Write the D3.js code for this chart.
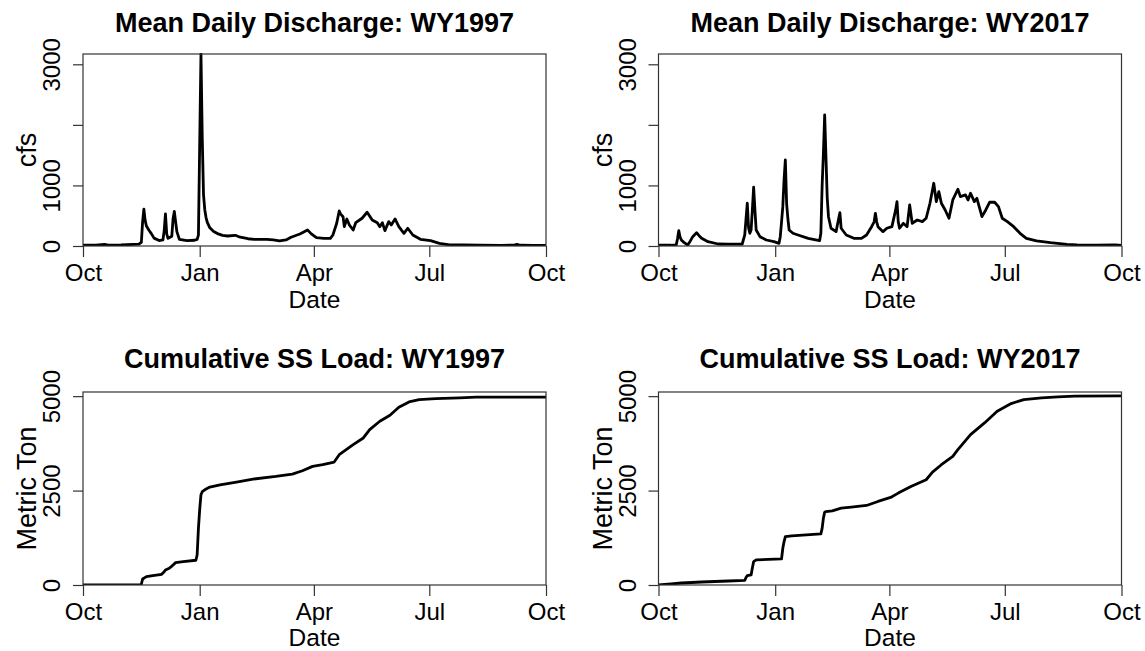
<!DOCTYPE html>
<html>
<head>
<meta charset="utf-8">
<script src="https://cdn.jsdelivr.net/npm/d3@7"></script>
<style>
  body { margin: 0; background: #fff; }
  svg text { font-family: "Liberation Sans", Arial, sans-serif; }
</style>
</head>
<body>
<svg id="chart"></svg>
<script>
// day of water year (0 = Oct 1) and values
var q1997Day = [0, 10, 17, 20, 30, 44, 46, 47, 48, 49, 50, 52, 54, 56, 60, 63, 64, 65, 66, 67,
    69, 70, 71, 72, 73, 74, 76, 82, 88, 90, 91, 92, 93, 94, 95, 96, 97, 98, 100, 103,
    106, 110, 114, 120, 124, 130, 135, 145, 150, 155, 160, 164, 171, 177, 180, 184, 190, 195, 197, 200,
    202, 203, 205, 206, 208, 210, 213, 215, 220, 224, 228, 232, 234, 236, 238, 241, 243, 246, 249, 253,
    256, 260, 266, 274, 281, 289, 300, 313, 330, 340, 342, 345, 355, 365];
var q1997Cfs = [15, 15, 25, 15, 18, 30, 60, 400, 610, 420, 330, 260, 200, 130, 90, 100, 250, 530, 200, 127,
    150, 160, 450, 570, 400, 237, 110, 88, 95, 110, 180, 1700, 3170, 1800, 850, 600, 470, 390, 300, 240,
    205, 175, 165, 177, 145, 120, 110, 110, 100, 85, 100, 145, 198, 264, 200, 137, 125, 127, 182, 375,
    578, 530, 484, 319, 446, 347, 264, 385, 458, 557, 430, 385, 319, 385, 253, 402, 347, 446, 319, 210,
    293, 182, 110, 88, 44, 20, 17, 12, 10, 15, 25, 12, 10, 8];

var q2017Day = [0, 10, 14, 15, 16, 17, 18, 20, 23, 25, 27, 30, 32, 34, 39, 47, 55, 66, 68, 69,
    70, 71, 72, 73, 74, 75, 76, 77, 80, 85, 91, 95, 96, 97, 98, 99, 100, 101, 102, 103,
    106, 110, 118, 127, 128, 129, 130, 131, 132, 133, 134, 136, 140, 142, 143, 144, 148, 154, 160, 164,
    168, 170, 171, 172, 173, 177, 180, 184, 187, 188, 189, 190, 193, 196, 198, 200, 204, 208, 211, 214,
    217, 219, 221, 223, 226, 229, 232, 236, 238, 242, 244, 246, 249, 251, 255, 258, 261, 265, 268, 271,
    275, 280, 285, 290, 298, 309, 322, 330, 345, 360, 365];
var q2017Cfs = [12, 12, 20, 120, 253, 150, 99, 60, 17, 80, 154, 220, 170, 127, 71, 33, 30, 33, 182, 450,
    706, 300, 210, 264, 600, 970, 600, 264, 154, 99, 71, 44, 154, 400, 650, 1100, 1422, 700, 450, 264,
    210, 182, 127, 88, 210, 1000, 1532, 2165, 1476, 800, 484, 293, 237, 450, 550, 293, 182, 127, 127, 182,
    319, 400, 540, 400, 319, 237, 293, 319, 600, 733, 400, 293, 375, 319, 678, 375, 430, 402, 458, 706,
    1036, 733, 898, 706, 595, 458, 760, 937, 815, 843, 760, 871, 733, 788, 484, 595, 722, 722, 650, 458,
    402, 319, 210, 127, 83, 55, 28, 20, 15, 18, 12];

var load1997Day = [0, 45, 46, 47, 50, 55, 62, 64, 65, 68, 70, 71, 73, 79, 89, 90, 91, 92, 93, 94,
    96, 100, 108, 121, 134, 152, 165, 173, 181, 189, 198, 202, 213, 221, 226, 234, 242, 249, 257, 265,
    278, 297, 310, 329, 365];
var load1997Ton = [0, 0, 20, 160, 221, 248, 283, 350, 398, 442, 500, 531, 593, 619, 655, 800, 1500, 2000, 2390, 2470,
    2521, 2592, 2654, 2725, 2804, 2875, 2937, 3026, 3141, 3185, 3256, 3450, 3716, 3893, 4114, 4335, 4494, 4706, 4848, 4910,
    4937, 4954, 4972, 4972, 4975];

var load2017Day = [0, 10, 18, 34, 55, 68, 69, 70, 73, 74, 75, 77, 97, 98, 99, 100, 105, 128, 129, 130,
    131, 132, 137, 144, 152, 164, 173, 183, 189, 199, 211, 216, 223, 232, 236, 246, 257, 267, 278, 288,
    302, 315, 328, 365];
var load2017Ton = [0, 27, 53, 80, 106, 124, 200, 248, 265, 450, 619, 664, 690, 973, 1150, 1283, 1300, 1354, 1500, 1769,
    1929, 1945, 1964, 2035, 2061, 2106, 2212, 2318, 2433, 2610, 2787, 2990, 3185, 3406, 3583, 3981, 4291, 4600, 4804, 4910,
    4954, 4981, 4999, 5008];

var monthLabels = ["Oct", "Jan", "Apr", "Jul", "Oct"];
var cfsTicks = [0, 1000, 2000, 3000];
var cfsTickLabels = ["0", "1000", "", "3000"];
var tonTicks = [0, 2500, 5000];
var tonTickLabels = ["0", "2500", "5000"];

var W = 1145, H = 651;
var plotW = 463;

var svg = d3.select("#chart")
    .attr("width", W)
    .attr("height", H);

var panels = [
    {title: "Mean Daily Discharge: WY1997", ylab: "cfs", start: Date.UTC(1996, 9, 1),
     days: q1997Day, vals: q1997Cfs, ymax: 3170, ticks: cfsTicks, tickLabels: cfsTickLabels,
     left: 83, top: 54, h: 192, titleY: 32, dateY: 308},
    {title: "Mean Daily Discharge: WY2017", ylab: "cfs", start: Date.UTC(2016, 9, 1),
     days: q2017Day, vals: q2017Cfs, ymax: 3170, ticks: cfsTicks, tickLabels: cfsTickLabels,
     left: 658.5, top: 54, h: 192, titleY: 32, dateY: 308},
    {title: "Cumulative SS Load: WY1997", ylab: "Metric Ton", start: Date.UTC(1996, 9, 1),
     days: load1997Day, vals: load1997Ton, ymax: 5110, ticks: tonTicks, tickLabels: tonTickLabels,
     left: 83, top: 392, h: 193, titleY: 368, dateY: 646},
    {title: "Cumulative SS Load: WY2017", ylab: "Metric Ton", start: Date.UTC(2016, 9, 1),
     days: load2017Day, vals: load2017Ton, ymax: 5110, ticks: tonTicks, tickLabels: tonTickLabels,
     left: 658.5, top: 392, h: 193, titleY: 368, dateY: 646}
];

panels.forEach(drawPanel);

function drawPanel(p, i) {
    var start = new Date(p.start);
    var end = d3.utcDay.offset(start, 365);
    var bottom = p.top + p.h;

    var x = d3.scaleUtc()
        .domain([start, end])
        .range([p.left, p.left + plotW]);
    var y = d3.scaleLinear()
        .domain([0, p.ymax])
        .range([bottom, p.top]);

    var g = svg.append("g");

    g.append("clipPath").attr("id", "clip" + i)
        .append("rect")
        .attr("x", p.left).attr("y", p.top - 1)
        .attr("width", plotW).attr("height", p.h + 1);

    var line = d3.line()
        .x(function(d) { return x(d3.utcDay.offset(start, d[0])); })
        .y(function(d) { return y(d[1]); });

    g.append("path")
        .datum(d3.zip(p.days, p.vals))
        .attr("clip-path", "url(#clip" + i + ")")
        .attr("fill", "none")
        .attr("stroke", "#000")
        .attr("stroke-width", 2.8)
        .attr("stroke-linejoin", "round")
        .attr("d", line);

    // box
    g.append("rect")
        .attr("x", p.left).attr("y", p.top)
        .attr("width", plotW).attr("height", p.h)
        .attr("fill", "none")
        .attr("stroke", "#333")
        .attr("stroke-width", 1.2);

    // x axis
    var xTicks = d3.utcMonth.every(3).range(start, d3.utcDay.offset(end, 1));
    var xa = g.append("g")
        .attr("transform", "translate(0," + bottom + ")")
        .call(d3.axisBottom(x)
            .tickValues(xTicks)
            .tickFormat(function(d, k) { return monthLabels[k]; })
            .tickSize(11)
            .tickPadding(7)
            .tickSizeOuter(0));
    xa.select(".domain").remove();
    xa.selectAll("line").attr("stroke", "#333").attr("stroke-width", 1.2);
    xa.selectAll("text")
        .attr("fill", "#000")
        .style("font-size", "24px");

    // y axis, labels parallel to the axis
    var ya = g.append("g")
        .attr("transform", "translate(" + p.left + ",0)")
        .call(d3.axisLeft(y)
            .tickValues(p.ticks)
            .tickFormat(function(d, k) { return p.tickLabels[k]; })
            .tickSize(10)
            .tickSizeOuter(0));
    ya.select(".domain").remove();
    ya.selectAll("line").attr("stroke", "#333").attr("stroke-width", 1.2);
    ya.selectAll("text")
        .attr("transform", "rotate(-90)")
        .attr("x", 0)
        .attr("y", -23)
        .attr("dy", null)
        .attr("fill", "#000")
        .style("text-anchor", "middle")
        .style("font-size", "24px");

    // titles
    g.append("text")
        .attr("x", p.left + plotW / 2)
        .attr("y", p.titleY)
        .style("text-anchor", "middle")
        .style("font-size", "27px")
        .style("font-weight", "bold")
        .text(p.title);

    g.append("text")
        .attr("x", p.left + plotW / 2)
        .attr("y", p.dateY)
        .style("text-anchor", "middle")
        .style("font-size", "24.5px")
        .text("Date");

    g.append("text")
        .attr("transform", "translate(" + (p.left - 47) + "," + (p.top + p.h / 2) + ") rotate(-90)")
        .style("text-anchor", "middle")
        .style("font-size", "27px")
        .text(p.ylab);
}
</script>
</body>
</html>
